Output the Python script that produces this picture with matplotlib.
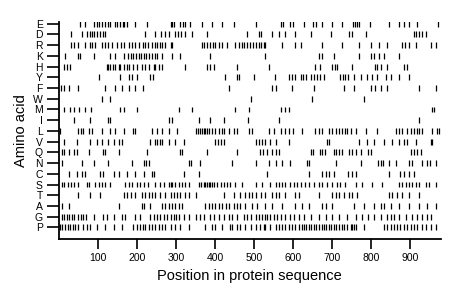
import matplotlib
matplotlib.use("Agg")
import matplotlib.pyplot as plt

plt.rcParams['font.family'] = ['Liberation Sans', 'DejaVu Sans']

# amino acids, bottom to top
amino = ['P', 'G', 'A', 'T', 'S', 'C', 'N', 'Q', 'V', 'L',
         'I', 'M', 'W', 'F', 'Y', 'H', 'K', 'R', 'D', 'E']

# positions of each residue along the sequence
pos_E = [55, 66, 91, 97, 104, 110, 119, 126, 132, 144, 150, 157, 163, 168, 174, 196, 226,
         286, 290, 294, 311, 318, 324, 337, 367, 392, 418, 448, 504, 568, 574, 593, 599, 627,
         651, 659, 675, 700, 726, 754, 758, 764, 769, 796, 846, 871, 884, 897, 918, 971]
pos_D = [32, 59, 72, 79, 86, 91, 97, 106, 112, 119, 221, 247, 262, 271, 281, 297, 305, 314,
         324, 341, 380, 482, 512, 519, 545, 565, 579, 604, 645, 696, 743, 751, 787, 910, 916,
         922, 929, 940]
pos_R = [32, 40, 50, 66, 80, 86, 93, 110, 119, 127, 136, 149, 160, 166, 179, 187, 196, 204,
         215, 221, 228, 238, 245, 251, 258, 264, 273, 286, 291, 367, 373, 380, 388, 394, 401,
         409, 418, 431, 452, 461, 469, 474, 482, 489, 497, 504, 512, 519, 525, 529, 572, 606,
         619, 675, 726, 769, 799, 820, 841, 880, 886, 897, 914, 952, 965]
pos_K = [16, 49, 55, 91, 132, 144, 166, 177, 185, 191, 197, 204, 211, 217, 223, 230, 238,
         245, 251, 264, 290, 311, 388, 529, 666, 675, 704, 769, 799, 807, 820, 833, 871]
pos_H = [12, 20, 29, 123, 127, 132, 138, 144, 153, 157, 166, 174, 180, 191, 200, 213, 221,
         230, 243, 247, 256, 264, 324, 380, 388, 397, 456, 538, 657, 670, 700, 707, 713, 751,
         810, 816, 824, 841, 884, 893]
pos_Y = [102, 157, 179, 187, 200, 234, 241, 425, 456, 462, 499, 553, 589, 598, 606, 619, 625,
         632, 645, 653, 662, 670, 679, 721, 727, 734, 741, 756, 773, 790, 803, 816, 837, 850,
         871, 897]
pos_F = [5, 12, 25, 48, 119, 144, 162, 179, 196, 215, 435, 546, 555, 598, 653, 730, 756, 799,
         811, 824, 841, 922, 965]
pos_W = [110, 132, 491, 649, 781]
pos_M = [12, 29, 40, 52, 66, 83, 157, 166, 200, 307, 341, 452, 486, 570, 579, 589, 957, 961]
pos_I = [38, 80, 127, 132, 281, 290, 358, 388, 422, 485, 563, 922]
pos_L = [3, 50, 57, 63, 76, 85, 110, 132, 144, 166, 191, 196, 238, 251, 264, 281, 303, 350,
         356, 362, 367, 371, 375, 380, 384, 392, 399, 409, 418, 422, 435, 448, 456, 486, 495,
         538, 551, 568, 580, 589, 599, 623, 657, 666, 675, 692, 700, 709, 717, 726, 733, 739,
         747, 760, 786, 816, 863, 871, 880, 893, 901, 910, 918, 922, 931, 957, 969, 974]
pos_V = [12, 46, 80, 97, 110, 127, 140, 153, 162, 234, 245, 251, 258, 264, 281, 298, 320,
         401, 408, 414, 422, 504, 512, 521, 529, 542, 555, 589, 687, 692, 769, 790, 807, 833,
         854, 871, 884, 893, 914, 952, 957]
pos_Q = [8, 14, 25, 38, 46, 76, 114, 119, 153, 226, 311, 315, 380, 456, 516, 522, 533, 546,
         555, 563, 645, 651, 670, 675, 681, 704, 710, 717, 724, 743, 751, 760, 773, 793, 799,
         901, 910, 918, 927]
pos_N = [8, 59, 91, 127, 187, 217, 223, 230, 333, 339, 362, 444, 504, 538, 555, 572, 593,
         636, 640, 709, 773, 818, 824, 830, 846, 863, 897, 904, 931, 944, 950, 965]
pos_C = [25, 46, 59, 66, 106, 114, 140, 153, 174, 196, 217, 238, 243, 320, 358, 533, 640,
         675, 683, 693, 704, 741, 751, 760, 846, 875, 884, 897, 910]
pos_S = [8, 14, 23, 32, 40, 49, 72, 76, 93, 102, 110, 119, 132, 170, 179, 187, 200, 209, 217,
         228, 247, 260, 268, 281, 286, 290, 298, 307, 315, 324, 333, 358, 365, 371, 375, 380,
         384, 388, 392, 397, 405, 414, 422, 431, 439, 452, 469, 504, 521, 542, 555, 563, 572,
         580, 593, 602, 610, 619, 630, 640, 653, 666, 675, 687, 700, 713, 721, 734, 760, 777,
         803, 828, 871, 880, 888, 897, 905, 914, 922, 940, 948, 965]
pos_T = [50, 80, 106, 166, 174, 185, 196, 213, 221, 230, 238, 247, 260, 273, 286, 294, 303,
         311, 324, 333, 350, 422, 448, 465, 478, 486, 495, 504, 519, 528, 546, 555, 563, 580,
         606, 615, 666, 700, 709, 717, 730, 743, 751, 764, 846, 854, 867, 880, 897, 922]
pos_A = [8, 25, 153, 213, 217, 234, 264, 273, 281, 290, 298, 307, 315, 375, 384, 392, 401,
         409, 418, 427, 435, 448, 456, 465, 478, 495, 508, 529, 546, 572, 606, 623, 640, 675,
         683, 700, 756, 781, 807, 824, 833, 850, 871, 897, 922, 944, 965]
pos_G = [8, 14, 20, 26, 33, 40, 50, 57, 63, 69, 89, 114, 123, 140, 162, 170, 196, 209, 234,
         243, 251, 260, 268, 277, 286, 294, 300, 307, 320, 333, 350, 362, 371, 388, 397, 409,
         422, 435, 444, 456, 474, 482, 491, 504, 512, 521, 528, 533, 542, 551, 559, 568, 580,
         593, 602, 615, 627, 645, 666, 683, 700, 717, 739, 760, 777, 793, 807, 824, 841, 850,
         858, 871, 888, 905, 918, 931, 944, 952]
pos_P = [3, 9, 16, 23, 29, 35, 42, 50, 63, 72, 80, 97, 119, 140, 162, 191, 200, 209, 215,
         221, 230, 238, 247, 256, 264, 273, 286, 298, 311, 333, 375, 392, 401, 418, 439, 444,
         456, 465, 478, 491, 504, 516, 525, 529, 542, 555, 563, 572, 580, 589, 598, 606, 615,
         622, 627, 633, 640, 647, 653, 659, 666, 673, 679, 685, 692, 698, 704, 710, 717, 724,
         730, 739, 747, 751, 756, 760, 781, 833, 841, 850, 858, 867, 875, 884, 893, 901, 910,
         918, 931, 940, 952, 965]

positions = [pos_P, pos_G, pos_A, pos_T, pos_S, pos_C, pos_N, pos_Q, pos_V, pos_L,
             pos_I, pos_M, pos_W, pos_F, pos_Y, pos_H, pos_K, pos_R, pos_D, pos_E]

fig = plt.figure(figsize=(4.6, 2.99), dpi=100)
ax = fig.add_axes([0.128, 0.2, 0.83, 0.728])

ax.eventplot(positions, orientation='horizontal', lineoffsets=range(len(amino)),
             linelengths=0.55, linewidths=0.9, colors='black')

ax.set_xlim(0, 978)
ax.set_ylim(-1.1, 19.2)
ax.set_yticks(range(len(amino)))
ax.set_yticklabels(amino, fontsize=7.5)
ax.set_xticks([100, 200, 300, 400, 500, 600, 700, 800, 900])
ax.tick_params(axis='x', labelsize=7.5, length=7, width=1.2, pad=3)
ax.tick_params(axis='y', length=8.5, width=1.2, pad=3)

for s in ['top', 'right']:
    ax.spines[s].set_visible(False)
ax.spines['left'].set_linewidth(1.3)
ax.spines['bottom'].set_linewidth(1.3)

ax.set_xlabel("Position in protein sequence", fontsize=10.5, labelpad=4)
ax.set_ylabel("Amino acid", fontsize=10.5, labelpad=4)

fig.savefig("out.png", dpi=100)
